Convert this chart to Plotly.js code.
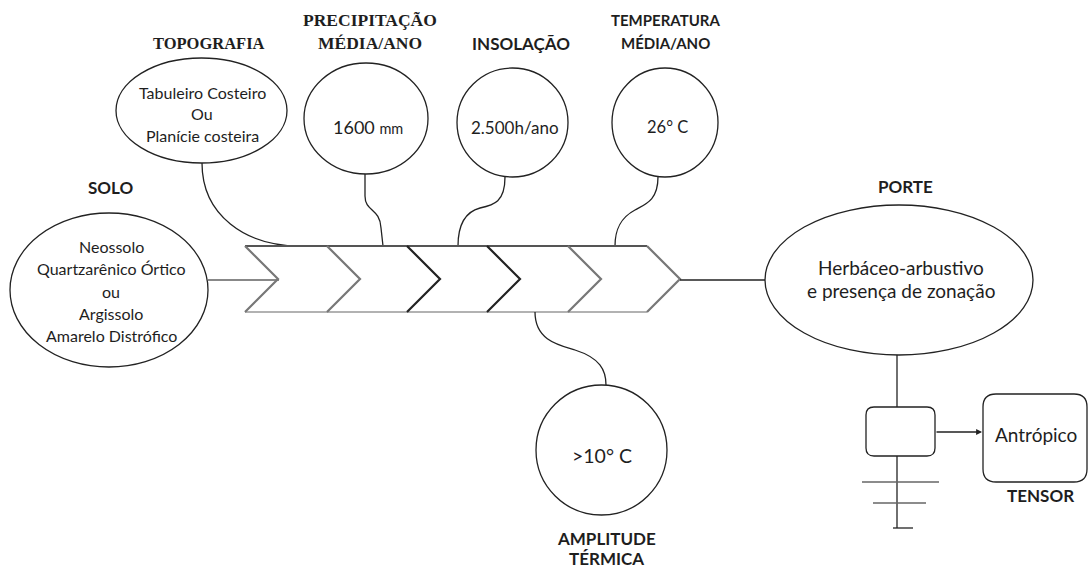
<!DOCTYPE html>
<html>
<head>
<meta charset="utf-8">
<script src="https://cdn.plot.ly/plotly-3.0.1.min.js"></script>
<style>html,body{margin:0;padding:0;background:#fff;}#chart{width:1088px;height:568px;}</style>
</head>
<body>
<div id="chart"></div>
<script>
// ---- content (text of the diagram) ----
const factorTitles = ["SOLO", "TOPOGRAFIA", "PRECIPITAÇÃO<br>MÉDIA/ANO", "INSOLAÇÃO", "TEMPERATURA<br>MÉDIA/ANO", "AMPLITUDE<br>TÉRMICA"];
const factorValues = [
  "Neossolo<br>Quartzarênico Órtico<br>ou<br>Argissolo<br>Amarelo Distrófico",
  "Tabuleiro Costeiro<br>Ou<br>Planície costeira",
  "1600 <span style='font-size:14.5px'>mm</span>",
  "2.500h/ano",
  "26° C",
  ">10° C"
];
const outcomeTitle = "PORTE";
const outcomeValue = "Herbáceo-arbustivo<br>e presença de zonação";
const tensorTitle = "TENSOR";
const tensorValue = "Antrópico";

// ---- geometry ----
const SANS = "Lato, 'Open Sans', sans-serif";
const SERIF = "'Liberation Serif', 'DejaVu Serif', serif";
const shapes = [];
const annotations = [];
function ell(cx, cy, rx, ry, w) {
  shapes.push({type: "circle", xref: "x", yref: "y", x0: cx - rx, x1: cx + rx, y0: cy - ry, y1: cy + ry,
    line: {color: "#222", width: w || 1.3}, fillcolor: "rgba(0,0,0,0)"});
}
function path(d, color, w) {
  shapes.push({type: "path", xref: "x", yref: "y", path: d, line: {color: color || "#222", width: w || 1.3}});
}
// multi-line text: each line placed separately with a given line spacing, centred on (x, yc)
function txt(x, yc, t, size, bold, fam, spacing) {
  const lines = t.split("<br>");
  const sp = spacing || size * 1.3;
  const y0 = yc - sp * (lines.length - 1) / 2;
  lines.forEach((ln, i) => {
    annotations.push({x: x, y: y0 + i * sp, xref: "x", yref: "y", text: bold ? "<b>" + ln + "</b>" : ln, showarrow: false,
      font: {family: fam || SANS, size: size, color: "#1e1e1e"}, xanchor: "center", yanchor: "middle", align: "center"});
  });
}
function rrect(x0, y0, x1, y1, r) {
  return `M ${x0 + r} ${y0} L ${x1 - r} ${y0} Q ${x1} ${y0} ${x1} ${y0 + r} L ${x1} ${y1 - r} Q ${x1} ${y1} ${x1 - r} ${y1} L ${x0 + r} ${y1} Q ${x0} ${y1} ${x0} ${y1 - r} L ${x0} ${y0 + r} Q ${x0} ${y0} ${x0 + r} ${y0} Z`;
}

// SOLO
txt(110, 187, factorTitles[0], 17, true);
ell(109, 290, 99, 77);
txt(111, 291, factorValues[0], 16, false, SANS, 22.2);
path("M 208 280 L 279 280", "#888", 2.2);

// TOPOGRAFIA
txt(209, 43, factorTitles[1], 16.5, true, SERIF);
ell(201.5, 110.5, 85.5, 52.5);
txt(202, 113.5, factorValues[1], 16, false, SANS, 21.5);
path("M 202 163 C 202 215, 245 246, 300 246");

// PRECIPITAÇÃO
txt(370, 31.5, factorTitles[2], 17.5, true, SERIF, 22.5);
ell(366, 118.5, 62, 55.5);
txt(368, 127, factorValues[2], 18, false);
path("M 365 174 L 365 196 C 365 212, 380 208, 381 228 L 383 246");

// INSOLAÇÃO
txt(521, 43, factorTitles[3], 17, true);
ell(512.5, 122.5, 55.5, 54.5);
txt(515, 127, factorValues[3], 17, false);
path("M 505 177 C 505 202, 494 205, 480 208 C 465 212, 458 225, 458 246");

// TEMPERATURA
txt(665, 31.5, factorTitles[4], 15, true, SANS, 22.5);
ell(665, 122.5, 53, 54.5);
txt(667, 127, factorValues[4], 16.5, false);
path("M 658 177 C 658 200, 646 204, 635 210 C 620 218, 615 230, 615 246");

// Fishbone spine (chevrons)
path("M 245 246 L 647 246", "#555", 2);
path("M 245 312 L 647 312", "#999", 1.6);
const chevX = [245, 327, 407, 487, 568, 647];
const chevC = ["#777", "#777", "#222", "#222", "#777", "#777"];
chevX.forEach((x, i) => path(`M ${x} 246 L ${x + 33} 279 L ${x} 312`, chevC[i], 2.2));
path("M 680 280 L 765 280", "#222", 1.5);

// AMPLITUDE TÉRMICA
path("M 535 312 C 535 340, 558 345, 575 350 C 600 358, 606 370, 606 385");
ell(601.5, 450, 65.5, 65);
txt(602, 455, factorValues[5], 19.5, false);
txt(606, 548.5, factorTitles[5], 17, true, SANS, 20);

// PORTE
txt(905, 186, outcomeTitle, 17, true);
ell(899, 280, 134, 75);
txt(901, 278.5, outcomeValue, 19, false, SANS, 23);
path("M 897 355 L 897 407");
path(rrect(866, 407, 935, 456, 8));
// TENSOR
path(rrect(983, 394, 1087, 482, 13));
txt(1036, 434, tensorValue, 19, false);
txt(1040, 495, tensorTitle, 17, true);
annotations.push({x: 982, y: 432, ax: 935, ay: 432, xref: "x", yref: "y", axref: "x", ayref: "y", text: "",
  showarrow: true, arrowhead: 2, arrowsize: 0.9, arrowwidth: 1.3, arrowcolor: "#222"});
// ground symbol
path("M 897 456 L 897 528");
path("M 862 482 L 939 482", "#666", 1.3);
path("M 873 503 L 926 503", "#666", 1.3);
path("M 893 528 L 913 528", "#222", 1.3);

const layout = {
  width: 1088, height: 568,
  margin: {l: 0, r: 0, t: 0, b: 0},
  paper_bgcolor: "#fff", plot_bgcolor: "#fff",
  xaxis: {range: [0, 1088], visible: false, fixedrange: true},
  yaxis: {range: [568, 0], visible: false, fixedrange: true},
  showlegend: false,
  shapes: shapes,
  annotations: annotations
};
Plotly.newPlot("chart", [], layout, {staticPlot: true, displayModeBar: false});
</script>
</body>
</html>
